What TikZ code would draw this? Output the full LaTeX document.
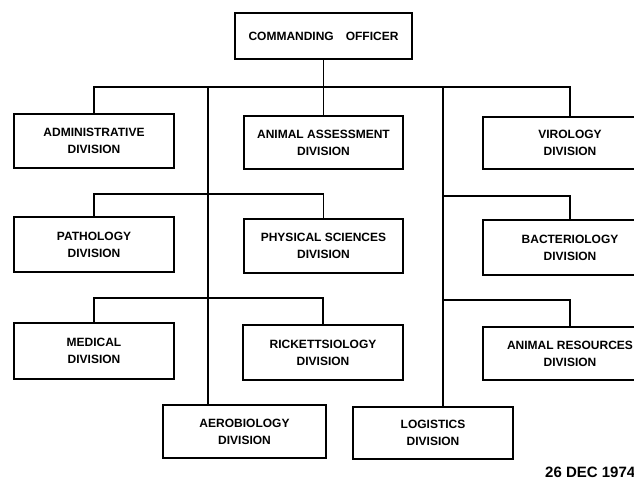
\documentclass[tikz,border=0pt]{standalone}
\usepackage{fontspec}
\setmainfont{Liberation Sans}
\usetikzlibrary{calc}

\begin{document}
\begin{tikzpicture}[
    x=1pt, y=-1pt, % work in pixels, y downwards
    box/.style={draw, line width=1.8pt, align=center, inner sep=0pt,
        minimum width=160pt, minimum height=54pt,
        font=\fontsize{12}{17}\selectfont\bfseries}, % Style for division boxes
    link/.style={line width=1.4pt} % Style for connectors
]
    \useasboundingbox (0,0) rectangle (634,478);
    \clip (0,0) rectangle (634,478);

    % Top box
    \node[box, minimum width=177pt, minimum height=46pt] (co) at (323.5,36) {COMMANDING\quad OFFICER};

%    ############# FIRST ROW
    \node[box] (admin) at (94,141) {ADMINISTRATIVE\\DIVISION};
    \node[box, minimum width=159pt, minimum height=53pt] (assess) at (323.5,142.5) {ANIMAL ASSESSMENT\\DIVISION};
    \node[box, minimum width=174pt, minimum height=52pt] (viro) at (570,143) {VIROLOGY\\DIVISION};

%    ############# SECOND ROW
    \node[box, minimum height=55pt] (patho) at (94,244.5) {PATHOLOGY\\DIVISION};
    \node[box, minimum width=159pt] (physci) at (323.5,246) {PHYSICAL SCIENCES\\DIVISION};
    \node[box, minimum width=174pt, minimum height=55pt] (bact) at (570,247.5) {BACTERIOLOGY\\DIVISION};

%    ############# THIRD ROW
    \node[box, minimum height=56pt] (medic) at (94,351) {MEDICAL\\DIVISION};
    \node[box, minimum height=55pt] (rick) at (323,352.5) {RICKETTSIOLOGY\\DIVISION};
    \node[box, minimum width=174pt, minimum height=53pt] (animres) at (570,353.5) {ANIMAL RESOURCES\\DIVISION};

%    ############# BOTTOM ROW
    \node[box, minimum width=163pt, minimum height=53pt] (aero) at (244.5,431.5) {AEROBIOLOGY\\DIVISION};
    \node[box, minimum height=52pt] (logi) at (433,433) {LOGISTICS\\DIVISION};

    % Date stamp
    \node[font=\fontsize{15}{15}\selectfont\bfseries, anchor=west, inner sep=0pt] (date) at (545,472) {26 DEC 1974};

    % Bus lines and trunks
    \coordinate (topbus) at (0,87);
    \coordinate (trunkL) at (208,87);
    \coordinate (trunkR) at (443,87);
    \coordinate (midbusL) at (0,194);
    \coordinate (midbusR) at (0,196);
    \coordinate (lowbusL) at (0,298);
    \coordinate (lowbusR) at (0,300);

    % Draw connectors
    \draw[link] (co) -- (assess);
    \draw[link] (admin.north) -- (admin.north |- topbus) -- (viro.north |- topbus) -- (viro.north);
    \draw[link] (trunkL) -- (trunkL |- aero.north);
    \draw[link] (trunkR) -- (trunkR |- logi.north);

    \draw[link] (patho.north) -- (patho.north |- midbusL) -- (physci.north |- midbusL) -- (physci.north);
    \draw[link] (trunkR |- midbusR) -- (bact.north |- midbusR) -- (bact.north);

    \draw[link] (medic.north) -- (medic.north |- lowbusL) -- (rick.north |- lowbusL) -- (rick.north);
    \draw[link] (trunkR |- lowbusR) -- (animres.north |- lowbusR) -- (animres.north);

\end{tikzpicture}
\end{document}
